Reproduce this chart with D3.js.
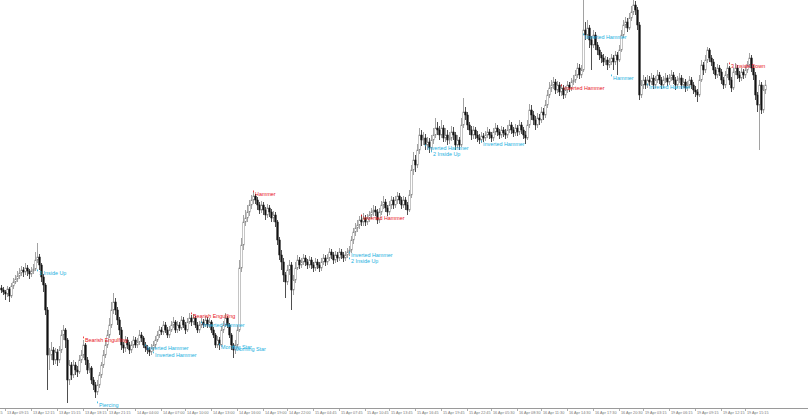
<!DOCTYPE html>
<html><head><meta charset="utf-8">
<script src="https://cdn.jsdelivr.net/npm/d3@7"></script>
<style>html,body{margin:0;padding:0;background:#fff;}svg{display:block;}</style>
</head><body>
<svg id="c" width="808" height="416"></svg>
<script>
const opens = [122,120,118,116,121,114,124,128,131,134,137,140,138,142,139,136,139,141,150,153,
145,133,125,100,55,55,60,50,58,50,60,75,80,70,30,45,35,45,40,38,
50,55,65,50,40,42,30,25,18,25,35,45,55,65,75,85,100,108,100,90,
80,65,62,70,65,60,65,70,65,68,75,72,65,62,60,58,62,65,70,75,
80,78,85,80,75,80,85,88,80,85,82,90,85,80,88,92,88,92,85,80,
85,88,85,90,85,88,80,75,65,70,65,80,85,92,85,75,65,60,65,80,
142,165,188,192,198,205,210,214,210,205,200,205,200,195,202,198,192,195,188,170,
155,148,135,128,140,145,120,130,142,150,145,148,152,148,145,150,145,142,148,145,
142,148,152,148,152,158,155,150,155,152,158,155,152,155,158,160,170,178,182,185,
190,188,192,188,192,195,198,200,198,190,198,205,208,202,198,205,210,205,210,214,
210,205,210,205,200,215,240,250,245,260,275,270,272,265,268,262,270,275,282,280,
275,282,272,275,270,272,278,275,265,270,265,285,298,295,285,280,275,280,275,272,
270,274,272,275,278,275,272,278,282,278,275,280,277,275,280,285,280,277,282,278,
285,280,275,272,285,300,295,290,285,292,290,298,295,305,315,322,325,328,320,325,
318,322,315,320,325,322,328,330,335,342,335,340,380,375,382,370,365,375,365,360,
355,352,348,350,345,348,352,348,355,350,360,375,385,388,382,392,398,405,400,385,
315,325,330,325,330,328,332,325,330,335,330,325,330,332,328,332,335,330,325,330,
332,325,328,322,325,330,325,320,318,315,330,345,340,350,360,352,348,340,335,342,
338,330,325,335,342,330,322,338,342,335,332,338,335,340,345,352,342,335,315,305,
325,300,320];
const closes = [120,118,116,121,114,124,128,131,134,137,140,138,142,139,136,139,141,150,153,145,
133,125,100,55,55,60,50,58,50,60,75,80,70,30,45,35,45,40,38,50,
55,65,50,40,42,30,25,18,25,35,45,55,65,75,85,100,108,100,90,80,
65,62,70,65,60,65,70,65,68,75,72,65,62,60,58,62,65,70,75,80,
78,85,80,75,80,85,88,80,85,82,90,85,80,88,92,88,92,85,80,85,
88,85,90,85,88,80,75,65,70,65,80,85,92,85,75,65,60,65,80,142,
165,188,192,198,205,210,214,210,205,200,205,200,195,202,198,192,195,188,170,155,
148,135,128,140,145,120,130,142,150,145,148,152,148,145,150,145,142,148,145,142,
148,152,148,152,158,155,150,155,152,158,155,152,155,158,160,170,178,182,185,190,
188,192,188,192,195,198,200,198,190,198,205,208,202,198,205,210,205,210,214,210,
205,210,205,200,215,240,250,245,260,275,270,272,265,268,262,270,275,282,280,275,
282,272,275,270,272,278,275,265,270,265,285,298,295,285,280,275,280,275,272,270,
274,272,275,278,275,272,278,282,278,275,280,277,275,280,285,280,277,282,278,285,
280,275,272,285,300,295,290,285,292,290,298,295,305,315,322,325,328,320,325,318,
322,315,320,325,322,328,330,335,342,335,340,380,375,382,370,365,375,365,360,355,
352,348,350,345,348,352,348,355,350,360,375,385,388,382,392,398,405,400,385,315,
325,330,325,330,328,332,325,330,335,330,325,330,332,328,332,335,330,325,330,332,
325,328,322,325,330,325,320,318,315,330,345,340,350,360,352,348,340,335,342,338,
330,325,335,342,330,322,338,342,335,332,338,335,340,345,352,342,335,315,305,325,
300,320,325];
const highs = [125,123,120,124,123,127,132,135,139,142,144,143,147,145,141,143,146,158,167,156,
147,136,127,103,62,68,63,62,61,64,80,85,82,72,50,48,50,48,44,55,
60,70,67,53,47,44,33,28,30,38,48,60,70,80,92,108,117,112,103,93,
83,68,74,73,68,69,74,73,72,80,78,74,68,65,63,66,69,74,79,84,
83,89,88,83,84,89,93,90,89,88,94,93,88,92,97,95,96,94,88,89,
92,91,94,93,92,90,83,77,74,73,84,89,97,94,87,77,67,70,85,150,
172,195,200,205,210,215,218,216,213,208,209,208,203,206,205,201,199,198,190,173,
160,152,138,145,150,148,135,148,155,153,152,156,155,151,154,153,148,152,151,148,
152,156,155,156,162,161,158,159,158,162,161,158,159,162,164,174,182,187,190,194,
195,197,195,196,199,202,205,204,201,202,209,214,211,205,209,214,213,214,218,217,
213,214,213,208,220,245,258,255,266,282,280,278,276,273,272,275,282,292,288,284,
290,285,282,280,278,284,283,278,275,273,292,312,303,298,288,284,284,283,279,276,
278,277,279,283,281,278,282,287,285,281,284,283,281,285,290,288,283,286,285,290,
288,283,279,290,306,305,299,294,297,296,303,302,310,320,328,330,333,331,329,328,
326,325,324,329,328,332,335,340,347,346,345,410,388,390,385,374,380,378,368,363,
358,356,354,353,352,356,355,359,358,365,380,390,393,392,397,404,410,409,403,388,
330,335,333,335,334,337,335,334,340,338,333,334,337,335,336,340,338,333,334,337,
335,332,331,329,334,333,328,324,321,335,350,348,355,363,362,355,351,343,346,345,
341,333,339,347,344,333,342,347,345,339,342,341,344,349,357,355,345,338,318,330,
328,325,330];
const lows = [117,115,110,113,108,112,121,126,128,131,134,133,135,134,131,133,136,139,147,140,
128,118,95,20,40,50,45,46,44,47,57,70,62,7,25,30,32,35,33,36,
47,52,45,36,37,26,20,12,15,22,32,42,52,62,72,82,96,95,85,75,
60,57,58,61,56,57,62,62,62,65,68,62,58,56,54,55,59,62,68,72,
75,75,77,72,72,78,82,77,77,79,80,82,76,78,86,84,85,82,77,77,
82,82,83,82,82,77,72,62,62,60,63,77,83,82,72,60,52,56,62,78,
138,160,184,188,194,201,206,206,200,196,197,195,190,192,193,188,188,183,165,150,
140,128,112,125,135,100,115,127,140,141,142,145,144,141,142,141,138,139,141,138,
139,145,144,145,149,151,146,147,148,149,151,148,149,152,154,157,166,174,178,181,
184,184,184,185,188,191,194,194,186,187,195,201,198,194,195,201,201,202,206,206,
201,202,200,195,198,212,235,238,242,256,264,265,260,260,257,259,266,272,275,270,
272,268,268,265,266,269,270,260,262,260,263,282,290,280,275,270,271,271,268,266,
267,268,269,272,271,268,269,275,274,271,272,273,271,272,277,276,273,274,274,275,
276,271,266,270,282,290,285,280,282,285,287,290,292,302,312,318,321,316,317,314,
314,311,312,317,318,319,325,327,332,331,332,338,370,371,362,340,362,360,355,350,
347,344,345,340,342,345,340,345,335,348,358,372,382,378,380,389,395,395,380,310,
312,321,321,322,324,325,321,322,327,326,321,322,327,324,325,329,326,320,322,327,
321,322,318,319,322,321,316,313,308,313,328,335,337,347,348,344,336,331,332,334,
326,321,322,332,325,318,320,335,331,328,329,331,332,337,342,338,330,310,298,260,
296,297,316];

// time-axis labels and the bar each label belongs to
const timeLabels = ["13 Apr 06:15","13 Apr 09:15","13 Apr 12:15","13 Apr 15:15","13 Apr 18:15","13 Apr 21:15",
"14 Apr 04:00","14 Apr 07:00","14 Apr 10:00","14 Apr 13:00","14 Apr 16:00","14 Apr 19:00","14 Apr 22:00",
"15 Apr 04:45","15 Apr 07:45","15 Apr 10:45","15 Apr 13:45","15 Apr 16:45","15 Apr 19:45","15 Apr 22:45",
"16 Apr 05:30","16 Apr 08:30","16 Apr 11:30","16 Apr 14:30","16 Apr 17:30","16 Apr 20:30",
"19 Apr 03:15","19 Apr 06:15","19 Apr 09:15","19 Apr 12:15","19 Apr 15:15"];
const timeLabelBars = [-11,2,15,28,41,53,67,80,92,105,118,131,143,156,169,182,194,207,220,233,245,258,270,283,296,309,321,334,347,360,372];

// candlestick pattern annotations
const patternNames = ["3 Inside Up","Bearish Engulfing","Piercing","Inverted Hammer","Inverted Hammer","Bearish Engulfing",
"Inverted Hammer","Morning Star","Morning Star","Hammer","Inverted Hammer","2 Inside Up","Inverted Hammer",
"Inverted Hammer","2 Inside Up","Inverted Hammer","Inverted Hammer","Inverted Hammer","Hammer","Inverted Hammer","3 Inside Down"];
const patternBars = [18,41,48,72,76,95,100,109,116,126,174,174,180,212,215,240,280,291,305,323,364];
const patternPrices = [137,70,5,62,55,94,85,63,61,216,155,149,192,262,256,266,322,373,332,323,344];
const patternKinds = ["bull","bear","bull","bull","bull","bear","bull","bull","bull","bear","bull","bull","bear",
"bull","bull","bull","bear","bull","bull","bull","bear"];

const W = 808, H = 416, axisY = 408;
const svg = d3.select("#c");
const x = d3.scaleLinear().domain([0, closes.length - 1]).range([1, 765]);
const y = d3.scaleLinear().domain([0, 410]).range([410, 0]);

const bars = closes.map((c, i) => ({i, o: opens[i], h: highs[i], l: lows[i], c}));
const g = svg.append("g");
g.selectAll("line.wick").data(bars).join("line")
  .attr("x1", d => x(d.i) + 0.5).attr("x2", d => x(d.i) + 0.5)
  .attr("y1", d => y(d.h)).attr("y2", d => y(d.l))
  .attr("stroke", d => d.c >= d.o ? "#8a8a8a" : "#222").attr("stroke-width", 0.8);
const bw = 1.5;
g.selectAll("rect.body").data(bars).join("rect")
  .attr("x", d => x(d.i) + 0.5 - bw / 2)
  .attr("width", bw)
  .attr("y", d => y(Math.max(d.o, d.c)))
  .attr("height", d => Math.max(0.6, Math.abs(y(d.o) - y(d.c))))
  .attr("fill", d => d.c >= d.o ? "#ffffff" : "#111111")
  .attr("stroke", d => d.c >= d.o ? "#8a8a8a" : "#111111")
  .attr("stroke-width", 0.5);

// pattern labels
const colorOf = k => k === "bull" ? "#1ab0e0" : "#e8141c";
const pg = svg.append("g");
patternNames.forEach((name, k) => {
  const px = x(patternBars[k]), py = y(patternPrices[k]);
  pg.append("rect").attr("x", px).attr("y", py - 3.5).attr("width", 0.8).attr("height", 1.8).attr("fill", colorOf(patternKinds[k]));
  pg.append("text").attr("x", px + 2).attr("y", py + 1.8)
    .attr("font-family", "Liberation Sans, Arial, sans-serif").attr("font-size", 5.4)
    .attr("fill", colorOf(patternKinds[k])).text(name);
});

// time axis
svg.append("line").attr("x1", 0).attr("x2", W).attr("y1", axisY + 0.5).attr("y2", axisY + 0.5)
  .attr("stroke", "#9a9a9a").attr("stroke-width", 1);
const ax = svg.append("g");
timeLabels.forEach((t, k) => {
  const tx = x(timeLabelBars[k]);
  ax.append("line").attr("x1", tx + 0.5).attr("x2", tx + 0.5).attr("y1", axisY).attr("y2", axisY + 3)
    .attr("stroke", "#9a9a9a").attr("stroke-width", 0.8);
  ax.append("text").attr("x", tx + 2).attr("y", axisY + 6)
    .attr("font-family", "Liberation Sans, Arial, sans-serif").attr("font-size", 3.8)
    .attr("fill", "#777").text(t);
});
</script>
</body></html>
